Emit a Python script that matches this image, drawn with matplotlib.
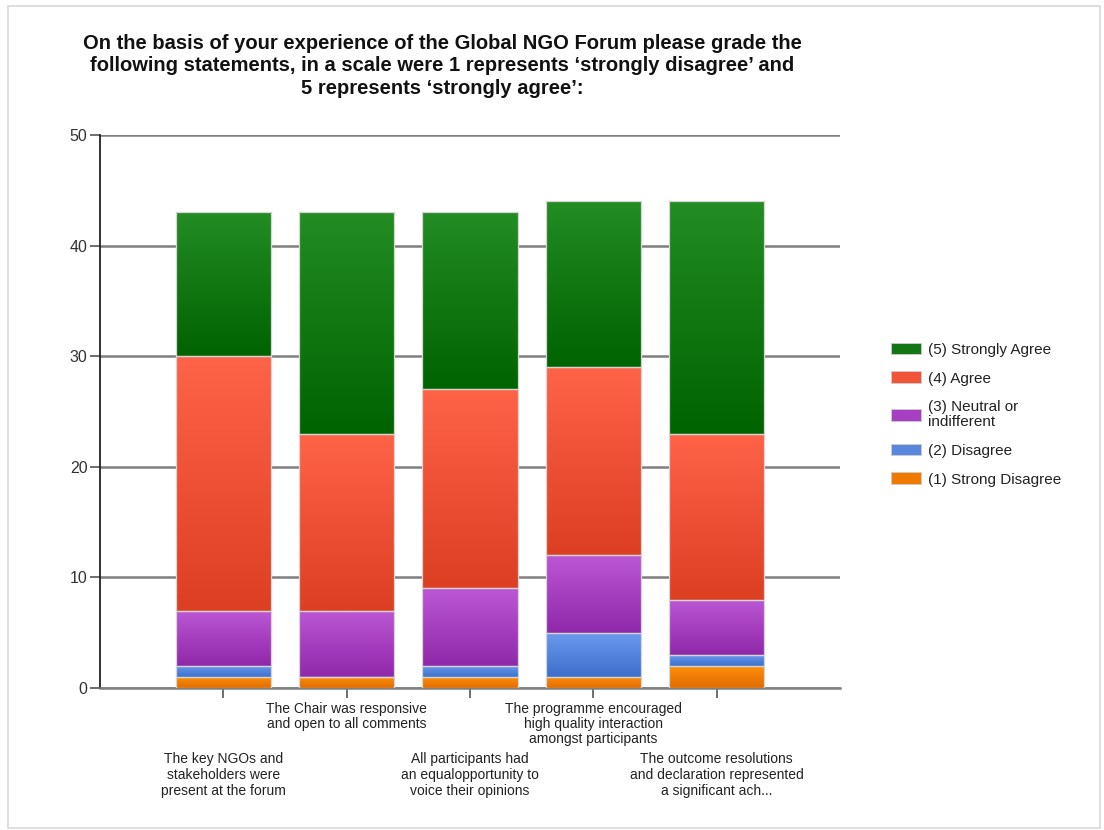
import numpy as np
import matplotlib
matplotlib.use("Agg")
import matplotlib.pyplot as plt
from matplotlib.colors import LinearSegmentedColormap
from matplotlib.patches import Patch, Rectangle

plt.rcParams['font.family'] = ['Liberation Sans', 'DejaVu Sans']

categories = [
    "The key NGOs and\nstakeholders were\npresent at the forum",
    "The Chair was responsive\nand open to all comments",
    "All participants had\nan equalopportunity to\nvoice their opinions",
    "The programme encouraged\nhigh quality interaction\namongst participants",
    "The outcome resolutions\nand declaration represented\na significant ach...",
]
series_names = ["(1) Strong Disagree", "(2) Disagree", "(3) Neutral or\nindifferent",
                "(4) Agree", "(5) Strongly Agree"]
strong_disagree = [1, 1, 1, 1, 2]
disagree = [1, 0, 1, 4, 1]
neutral = [5, 6, 7, 7, 5]
agree = [23, 16, 18, 17, 15]
strongly_agree = [13, 20, 16, 15, 21]
series_values = [strong_disagree, disagree, neutral, agree, strongly_agree]
yticks = [0, 10, 20, 30, 40, 50]

# (top colour, bottom colour, legend colour)
grad_colors = [
    ("#ff8f0a", "#e06c00", "#f07a00"),
    ("#6a9aee", "#3d6fcc", "#5a87de"),
    ("#bb57d4", "#9028aa", "#a63fc2"),
    ("#ff6347", "#dc3f22", "#f0553a"),
    ("#238c23", "#006400", "#137513"),
]

fig = plt.figure(figsize=(11.04, 8.30), dpi=100)
ax = fig.add_axes([100/1104, 1-688/830, 740/1104, (688-135)/830])

x = np.arange(len(categories))
width = 0.775
bottoms = np.zeros(len(categories))
grad = np.linspace(0, 1, 64).reshape(-1, 1)
for vals, (ctop, cbot, cleg) in zip(series_values, grad_colors):
    vals = np.array(vals, dtype=float)
    bars = ax.bar(x, vals, width, bottom=bottoms, facecolor='none',
                  edgecolor='#d5d5d5', linewidth=0.9, zorder=4)
    cmap = LinearSegmentedColormap.from_list("g", [cbot, ctop])
    for b in bars:
        if b.get_height() <= 0:
            continue
        im = ax.imshow(grad, extent=[b.get_x(), b.get_x() + b.get_width(),
                                     b.get_y(), b.get_y() + b.get_height()],
                       origin='lower', aspect='auto', cmap=cmap, zorder=3,
                       interpolation='bilinear')
        im.set_clip_path(b)
    bottoms += vals

ax.set_xlim(-1, 5)
ax.set_ylim(0, 50)
ax.set_yticks(yticks)
ax.yaxis.grid(True, color='#7f7f7f', linewidth=1.8)
ax.set_axisbelow(True)
for s in ['top', 'right']:
    ax.spines[s].set_visible(False)
ax.spines['left'].set_color('#222222')
ax.spines['left'].set_linewidth(1.3)
ax.spines['bottom'].set_color('#7f7f7f')
ax.spines['bottom'].set_linewidth(1.8)
ax.tick_params(axis='y', length=7, color='#555555', labelsize=11.5, labelcolor='#333333',
               width=1.2, pad=2)

upper = [1, 3]
lower = [0, 2, 4]
ax.set_xticks(upper, labels=[categories[i] for i in upper])
ax.set_xticks(lower, labels=[categories[i] for i in lower], minor=True)
ax.tick_params(axis='x', which='major', length=7, color='#555555', width=1.2,
               labelsize=10, labelcolor='#222222', pad=3)
ax.tick_params(axis='x', which='minor', length=7, color='#555555', width=1.2,
               labelsize=10, labelcolor='#222222', pad=39)
for lab in ax.get_xticklabels(which='major'):
    lab.set_linespacing(1.1)
for lab in ax.get_xticklabels(which='minor'):
    lab.set_linespacing(1.2)

fig.text(442/1104, 1-34/830,
         "On the basis of your experience of the Global NGO Forum please grade the\n"
         "following statements, in a scale were 1 represents \u2018strongly disagree\u2019 and\n"
         "5 represents \u2018strongly agree\u2019:",
         ha='center', va='top', fontsize=14.5, fontweight='bold', linespacing=1.22,
         color='#111111')

handles = [Patch(facecolor=c[2], edgecolor='#cccccc', linewidth=0.6) for c in grad_colors]
leg = fig.legend(handles[::-1], series_names[::-1], loc='upper left',
                 bbox_to_anchor=(877/1104, 1-329/830), frameon=False,
                 fontsize=11, handlelength=2.0, handleheight=0.8,
                 labelspacing=0.95, handletextpad=0.45)
for t in leg.get_texts():
    t.set_color('#222222')
    t.set_linespacing(1.1)

fig.patches.append(Rectangle((8/1104, 2/830), 1092/1104, 822/830, transform=fig.transFigure,
                             fill=False, edgecolor='#d9d9d9', linewidth=1.2))

fig.savefig("out.png", dpi=100)
